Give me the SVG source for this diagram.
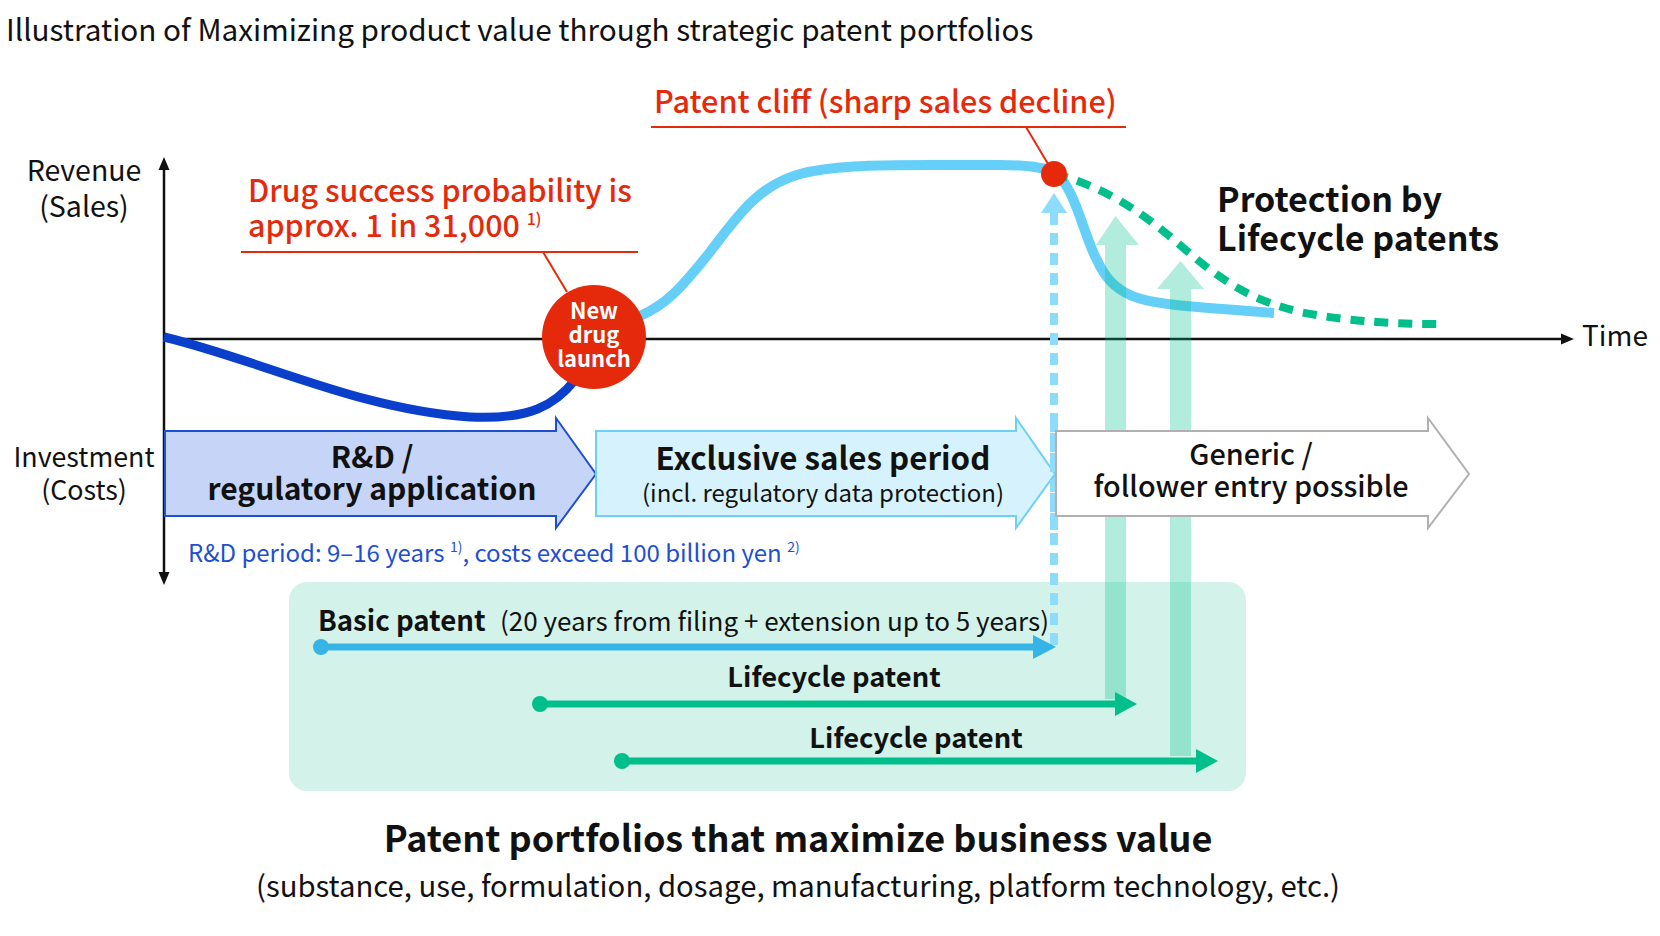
<svg xmlns="http://www.w3.org/2000/svg" width="1660" height="936" viewBox="0 0 1660 936">
<style>
text{font-family:"Noto Sans CJK JP","Noto Sans",sans-serif;}
.blk{fill:#111;}
.red{fill:#e52a0c;}
.b{font-weight:700;}
.m{font-weight:500;}
.mid{text-anchor:middle;}
</style>
<rect width="1660" height="936" fill="#fff"/>
<text x="6" y="41" font-size="29.7" class="blk">Illustration of Maximizing product value through strategic patent portfolios</text>

<g id="patent-box"><rect x="289" y="582" width="957" height="209" rx="18" fill="#d3f3ea"/></g>

<g id="axes">
<line x1="164" y1="166" x2="164" y2="576" stroke="#111" stroke-width="2.5"/>
<polygon points="164,157 158.5,170 169.5,170" fill="#111"/>
<polygon points="164,585 158.5,572 169.5,572" fill="#111"/>
<line x1="164" y1="339" x2="1564" y2="339" stroke="#111" stroke-width="2.5"/>
<polygon points="1574,339 1561,333.5 1561,344.5" fill="#111"/>
<text x="1582" y="346" font-size="28" class="blk">Time</text>
<text x="84" y="181" font-size="28.5" class="blk mid">Revenue</text>
<text x="84" y="217" font-size="28.5" class="blk mid">(Sales)</text>
<text x="84" y="467" font-size="26.8" class="blk mid">Investment</text>
<text x="84" y="500" font-size="26.8" class="blk mid">(Costs)</text>
</g>

<g id="curves" fill="none">
<path d="M164,337 C260,360 360,410 470,417 C530,420 555,405 575,380" stroke="#0a3fcc" stroke-width="9"/>
<path d="M640,316 C665,305 680,290 710,252 C740,212 760,185 800,174 C830,166 870,165 930,165 L1000,165 C1030,165 1045,168 1054,172 C1075,185 1085,240 1097,260 C1105,278 1115,288 1130,295 C1150,304 1180,306 1274,313" stroke="#66cff8" stroke-width="10"/>
<path d="M1054,174 C1100,185 1140,210 1180,245 C1220,280 1250,300 1300,312 C1350,322 1400,324 1437,324" stroke="#00bf8a" stroke-width="8" stroke-dasharray="14 10"/>
</g>

<g id="connectors">
<line x1="543" y1="252" x2="567" y2="292" stroke="#e52a0c" stroke-width="2"/>
<line x1="1026" y1="127" x2="1054" y2="174" stroke="#e52a0c" stroke-width="2"/>
<line x1="1054" y1="213" x2="1054" y2="645" stroke="#8ddcfb" stroke-width="8" stroke-dasharray="12 8"/>
<polygon points="1054,193 1067,213 1041,213" fill="#8ddcfb"/>
<g fill="#00bf8a" fill-opacity="0.3">
<polygon points="1105,699 1105,245 1096,245 1115.5,216 1139,245 1126,245 1126,699"/>
<polygon points="1170,756 1170,289 1157,289 1180.5,261 1204,289 1191,289 1191,756"/>
</g>
</g>

<g id="phase-rd">
<polygon points="165,431 556,431 556,418 596,474 556,528 556,516 165,516" fill="#c6d5f7" stroke="#1e4fd0" stroke-width="2"/>
<text x="372" y="468" font-size="30" class="blk b mid">R&amp;D /</text>
<text x="372" y="500" font-size="30" class="blk b mid">regulatory application</text>
</g>
<g id="phase-exclusive">
<polygon points="596,431 1016,431 1016,418 1055,474 1016,528 1016,516 596,516" fill="#d6f3fd" stroke="#6dd0f7" stroke-width="2"/>
<text x="823" y="470" font-size="31.3" class="blk b mid">Exclusive sales period</text>
<text x="823" y="502" font-size="24" class="blk mid">(incl. regulatory data protection)</text>
</g>
<line x1="1054" y1="420" x2="1054" y2="530" stroke="#8ddcfb" stroke-width="8" stroke-dasharray="12 8"/>
<g id="phase-generic">
<polygon points="1056,431 1428,431 1428,418 1469,474 1428,528 1428,516 1056,516" fill="#fff" stroke="#b0b0b0" stroke-width="2"/>
<text x="1251" y="465" font-size="28.8" class="blk m mid">Generic /</text>
<text x="1251" y="497" font-size="28.8" class="blk m mid">follower entry possible</text>
</g>

<text x="188" y="562" font-size="24" fill="#1e4fd0">R&amp;D period: 9–16 years <tspan font-size="14" dy="-10">1)</tspan><tspan dy="10">, costs exceed 100 billion yen </tspan><tspan font-size="14" dy="-10">2)</tspan></text>

<g id="drug-success">
<text x="248" y="202" font-size="30.4" class="red m">Drug success probability is</text>
<text x="248" y="237" font-size="30.4" class="red m">approx. 1 in 31,000 <tspan font-size="16" dy="-12">1)</tspan></text>
<line x1="241" y1="252" x2="638" y2="252" stroke="#e52a0c" stroke-width="2"/>
</g>

<g id="new-drug-launch">
<circle cx="594" cy="337" r="52" fill="#e52a0c"/>
<text x="594" y="319" font-size="22" fill="#fff" class="b mid">New</text>
<text x="594" y="343" font-size="22" fill="#fff" class="b mid">drug</text>
<text x="594" y="367" font-size="22" fill="#fff" class="b mid">launch</text>
</g>

<g id="patent-cliff">
<text x="654" y="113" font-size="30.6" class="red m">Patent cliff (sharp sales decline)</text>
<line x1="651" y1="127" x2="1126" y2="127" stroke="#e52a0c" stroke-width="2"/>
<circle cx="1054" cy="174" r="13" fill="#e52a0c"/>
</g>

<g id="protection">
<text x="1217" y="212" font-size="34" class="blk b">Protection by</text>
<text x="1217" y="251" font-size="34" class="blk b">Lifecycle patents</text>
</g>

<g id="basic-patent">
<text x="318" y="631" font-size="27.6" class="blk b">Basic patent</text>
<text x="500" y="631" font-size="26" class="blk">(20 years from filing + extension up to 5 years)</text>
<line x1="321" y1="647" x2="1036" y2="647" stroke="#36b4e5" stroke-width="7"/>
<circle cx="321" cy="647" r="8" fill="#36b4e5"/>
<polygon points="1033,635 1056,647 1033,659" fill="#36b4e5"/>
</g>
<g id="lifecycle-patent-1">
<text x="834" y="687" font-size="27.3" class="blk b mid">Lifecycle patent</text>
<line x1="540" y1="704" x2="1118" y2="704" stroke="#00bf8a" stroke-width="7"/>
<circle cx="540" cy="704" r="8" fill="#00bf8a"/>
<polygon points="1115,692 1137,704 1115,716" fill="#00bf8a"/>
</g>
<g id="lifecycle-patent-2">
<text x="916" y="748" font-size="27.3" class="blk b mid">Lifecycle patent</text>
<line x1="622" y1="761" x2="1199" y2="761" stroke="#00bf8a" stroke-width="7"/>
<circle cx="622" cy="761" r="8" fill="#00bf8a"/>
<polygon points="1196,749 1218,761 1196,773" fill="#00bf8a"/>
</g>

<g id="footer">
<text x="798" y="852" font-size="36" class="blk b mid">Patent portfolios that maximize business value</text>
<text x="798" y="897" font-size="29.3" class="blk mid">(substance, use, formulation, dosage, manufacturing, platform technology, etc.)</text>
</g>
</svg>
